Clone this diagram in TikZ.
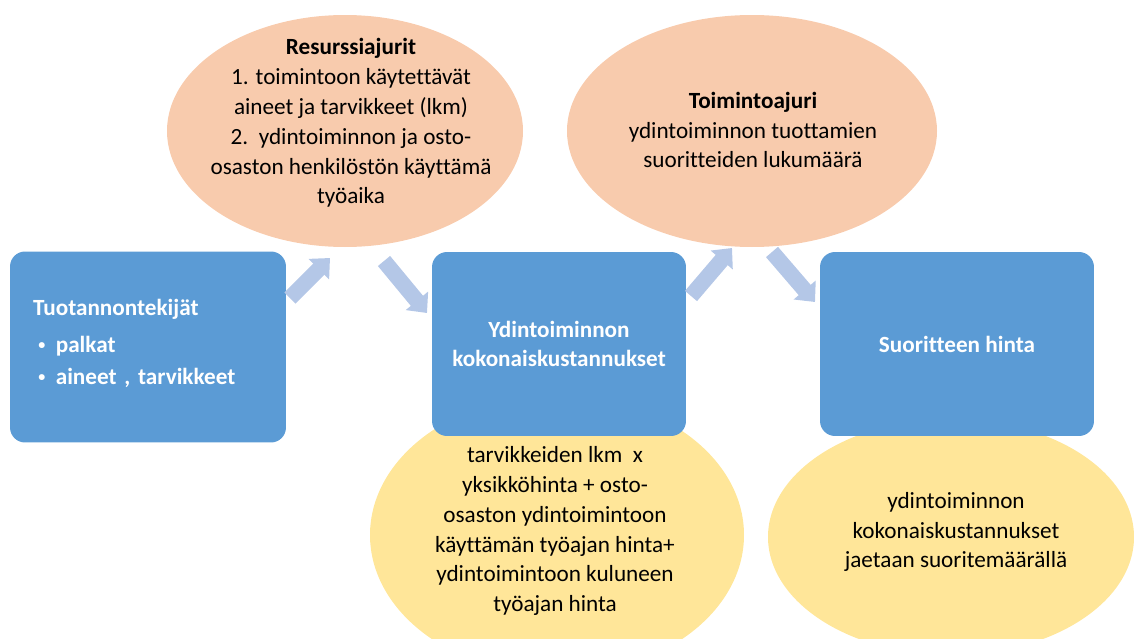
\documentclass[tikz,border=0pt]{standalone}
\usepackage{fontspec}
\setmainfont{Carlito}[Ligatures=NoCommon]
\usepackage{tikz}
\usetikzlibrary{arrows.meta}
\definecolor{KustBlue}{RGB}{91,155,213}
\definecolor{KustOrange}{RGB}{248,203,173}
\definecolor{KustYellow}{RGB}{255,230,153}
\definecolor{KustArrow}{RGB}{180,199,231}
\newcommand*{\pallo}{\hspace*{3pt}\raisebox{1.5pt}{\fontsize{8}{8}\selectfont\textbullet}\hspace{6pt}}

\begin{document}
\begin{tikzpicture}[x=0.02cm,y=-0.02cm,
    txt/.style={align=center,font=\fontsize{13.2}{17}\selectfont},
    box/.style={fill=KustBlue,rounded corners=0.3cm,inner sep=0pt,text=white,
      font=\fontsize{13.2}{16}\selectfont\bfseries,align=center},
    flow/.style={draw=KustArrow,line width=9pt,-{Triangle[length=9pt,width=16pt]}}]
    \clip (0,0) rectangle (1134,639);
    % ajurit and laskentaohjeet
    \fill[KustOrange] (345,131) ellipse [x radius=178,y radius=116];
    \fill[KustOrange] (752,131) ellipse [x radius=185,y radius=116];
    \fill[KustYellow] (557,535) ellipse [x radius=187,y radius=140];
    \fill[KustYellow] (951,537) ellipse [x radius=183,y radius=118];
    \node[txt] (resurssi) at (351,123) {\textbf{Resurssiajurit}\\1. toimintoon käytettävät\\aineet ja tarvikkeet (lkm)\\2.\ \ ydintoiminnon ja osto-\\osaston henkilöstön käyttämä\\työaika};
    \node[txt] (toiminto) at (753,130) {\textbf{Toimintoajuri}\\ydintoiminnon tuottamien\\suoritteiden lukumäärä};
    \node[txt] (tarvike) at (555,531) {tarvikkeiden lkm\ \ x\\yksikköhinta + osto-\\osaston ydintoimintoon\\käyttämän työajan hinta+\\ydintoimintoon kuluneen\\työajan hinta};
    \node[txt] (jako) at (956,532) {ydintoiminnon\\kokonaiskustannukset\\jaetaan suoritemäärällä};
    % kustannuslaatikot
    \node[box,minimum width=5.52cm,minimum height=3.82cm,text width=4.6cm,align=left,
      font=\fontsize{13.2}{18}\selectfont\bfseries] (tekijat) at (148,347)
      {Tuotannontekijät\\[3pt]\pallo palkat\\\pallo aineet , tarvikkeet\\[-12pt]\mbox{}};
    \node[box,minimum width=5.08cm,minimum height=3.68cm] (ydin) at (559,344) {Ydintoiminnon\\kokonaiskustannukset};
    \node[box,minimum width=5.48cm,minimum height=3.68cm] (hinta) at (957,344) {Suoritteen hinta};
    % nuolet
    \coordinate (a1s) at (290,298); \coordinate (a1e) at (330,258);
    \coordinate (a2s) at (384,261); \coordinate (a2e) at (427,313);
    \coordinate (a3s) at (691,296); \coordinate (a3e) at (732,248);
    \coordinate (a4s) at (772,252); \coordinate (a4e) at (815,302);
    \foreach \n in {1,...,4}
      \draw[flow] (a\n s) -- (a\n e);
\end{tikzpicture}
\end{document}
